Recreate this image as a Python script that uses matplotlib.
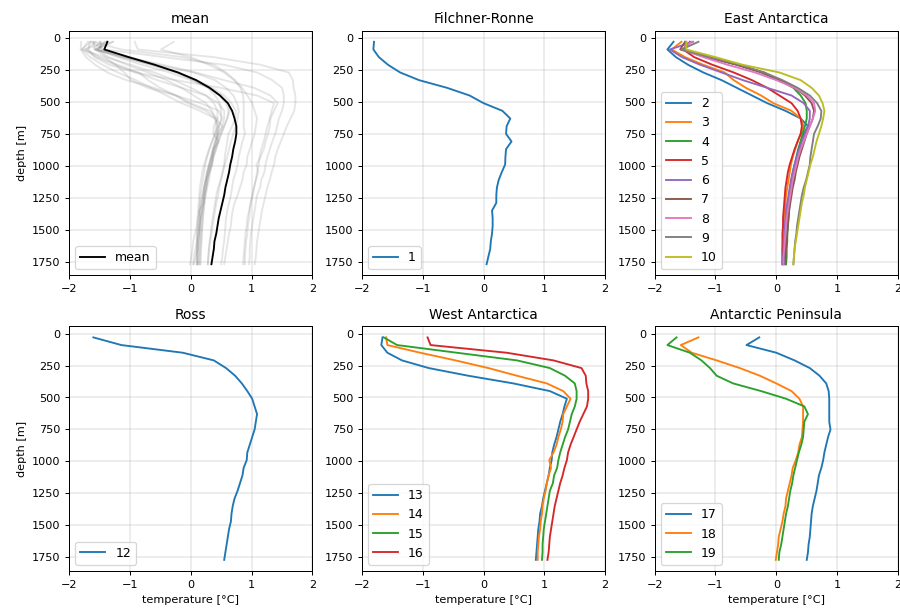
import numpy as np
import matplotlib
matplotlib.use("Agg")
import matplotlib.pyplot as plt

depth = [30, 90, 150, 210, 270, 330, 390, 450, 510, 570, 630, 690, 750, 810, 870,
         930, 990, 1050, 1110, 1170, 1230, 1290, 1350, 1410, 1470, 1530, 1590, 1650, 1710, 1770]

t1 = [-1.80, -1.81, -1.72, -1.57, -1.37, -1.06, -0.60, -0.23, 0.00, 0.31, 0.44, 0.38, 0.37, 0.46, 0.37,
      0.36, 0.355, 0.30, 0.25, 0.22, 0.21, 0.21, 0.14, 0.15, 0.15, 0.14, 0.12, 0.11, 0.08, 0.05]

t2 = [-1.69, -1.79, -1.65, -1.45, -1.20, -0.90, -0.65, -0.40, -0.15, 0.15, 0.40, 0.52, 0.45, 0.40, 0.36,
      0.33, 0.30, 0.27, 0.25, 0.23, 0.21, 0.19, 0.18, 0.17, 0.16, 0.15, 0.15, 0.14, 0.14, 0.13]
t3 = [-1.56, -1.72, -1.50, -1.20, -0.85, -0.70, -0.50, -0.25, -0.05, 0.25, 0.40, 0.45, 0.40, 0.35, 0.31,
      0.27, 0.24, 0.22, 0.20, 0.18, 0.16, 0.15, 0.14, 0.13, 0.12, 0.11, 0.11, 0.10, 0.10, 0.10]
t4 = [-1.48, -1.50, -1.10, -0.65, -0.20, 0.05, 0.28, 0.40, 0.48, 0.50, 0.50, 0.47, 0.43, 0.40, 0.37,
      0.34, 0.31, 0.29, 0.27, 0.25, 0.23, 0.22, 0.21, 0.20, 0.19, 0.18, 0.18, 0.17, 0.17, 0.16]
t5 = [-1.42, -1.53, -1.35, -1.05, -0.70, -0.40, -0.15, 0.05, 0.25, 0.35, 0.40, 0.42, 0.40, 0.35, 0.30,
      0.26, 0.22, 0.19, 0.17, 0.15, 0.14, 0.13, 0.12, 0.11, 0.11, 0.10, 0.10, 0.10, 0.10, 0.10]
t6 = [-1.37, -1.75, -1.55, -1.25, -0.90, -0.55, -0.15, 0.25, 0.45, 0.55, 0.55, 0.52, 0.47, 0.42, 0.38,
      0.34, 0.30, 0.27, 0.24, 0.22, 0.20, 0.18, 0.16, 0.15, 0.14, 0.13, 0.12, 0.12, 0.11, 0.11]
t7 = [-1.50, -1.58, -1.15, -0.65, -0.25, 0.05, 0.30, 0.47, 0.58, 0.62, 0.60, 0.55, 0.50, 0.46, 0.42,
      0.38, 0.35, 0.32, 0.30, 0.27, 0.25, 0.23, 0.21, 0.20, 0.19, 0.18, 0.17, 0.16, 0.15, 0.15]
t8 = [-1.39, -1.54, -1.20, -0.80, -0.35, 0.00, 0.30, 0.50, 0.62, 0.64, 0.60, 0.55, 0.50, 0.45, 0.40,
      0.36, 0.33, 0.30, 0.27, 0.25, 0.23, 0.21, 0.19, 0.17, 0.16, 0.15, 0.14, 0.13, 0.12, 0.12]
t9 = [-1.28, -1.56, -1.10, -0.60, -0.20, 0.10, 0.35, 0.55, 0.67, 0.74, 0.73, 0.68, 0.62, 0.60, 0.58,
      0.56, 0.55, 0.52, 0.49, 0.45, 0.42, 0.40, 0.38, 0.36, 0.34, 0.33, 0.31, 0.30, 0.29, 0.28]
t10 = [-1.48, -1.48, -1.00, -0.55, 0.05, 0.40, 0.58, 0.70, 0.76, 0.79, 0.77, 0.74, 0.70, 0.66, 0.63,
       0.60, 0.56, 0.53, 0.50, 0.47, 0.45, 0.42, 0.40, 0.38, 0.36, 0.34, 0.32, 0.30, 0.29, 0.28]

t12 = [-1.60, -1.14, -0.13, 0.38, 0.58, 0.73, 0.84, 0.93, 1.01, 1.05, 1.09, 1.07, 1.05, 1.01, 0.97,
       0.93, 0.92, 0.87, 0.85, 0.81, 0.77, 0.72, 0.69, 0.67, 0.66, 0.63, 0.61, 0.59, 0.57, 0.55]

t13 = [-1.66, -1.68, -1.58, -1.34, -0.90, -0.25, 0.49, 1.09, 1.37, 1.33, 1.30, 1.26, 1.23, 1.20, 1.16,
       1.13, 1.12, 1.09, 1.07, 1.04, 1.01, 0.98, 0.96, 0.93, 0.92, 0.90, 0.89, 0.88, 0.87, 0.86]
t14 = [-1.60, -1.58, -1.04, -0.46, 0.08, 0.55, 1.04, 1.31, 1.43, 1.37, 1.31, 1.30, 1.27, 1.23, 1.20,
       1.15, 1.08, 1.11, 1.07, 1.04, 1.02, 0.99, 0.97, 0.96, 0.94, 0.93, 0.91, 0.90, 0.89, 0.89]
t15 = [-1.64, -1.42, -0.44, 0.55, 1.09, 1.34, 1.50, 1.53, 1.53, 1.50, 1.45, 1.42, 1.39, 1.34, 1.30,
       1.26, 1.23, 1.21, 1.16, 1.14, 1.09, 1.07, 1.05, 1.03, 1.01, 0.99, 0.98, 0.97, 0.97, 0.96]
t16 = [-0.92, -0.87, 0.38, 1.15, 1.61, 1.68, 1.69, 1.72, 1.72, 1.70, 1.64, 1.58, 1.53, 1.48, 1.43,
       1.39, 1.37, 1.33, 1.30, 1.26, 1.23, 1.20, 1.17, 1.15, 1.13, 1.11, 1.09, 1.08, 1.07, 1.05]

t17 = [-0.28, -0.49, 0.00, 0.30, 0.55, 0.71, 0.82, 0.86, 0.87, 0.87, 0.87, 0.87, 0.89, 0.85, 0.82,
       0.79, 0.77, 0.74, 0.70, 0.68, 0.66, 0.63, 0.60, 0.58, 0.57, 0.56, 0.55, 0.53, 0.52, 0.50]
t18 = [-1.28, -1.57, -1.39, -0.98, -0.60, -0.27, 0.00, 0.25, 0.38, 0.44, 0.44, 0.44, 0.43, 0.42, 0.38,
       0.36, 0.32, 0.27, 0.25, 0.22, 0.19, 0.16, 0.15, 0.12, 0.10, 0.07, 0.04, 0.03, 0.01, -0.01]
t19 = [-1.64, -1.79, -1.42, -1.23, -1.09, -0.98, -0.71, -0.25, 0.16, 0.46, 0.52, 0.46, 0.45, 0.44, 0.41,
       0.37, 0.34, 0.31, 0.28, 0.26, 0.23, 0.21, 0.19, 0.16, 0.14, 0.12, 0.10, 0.08, 0.05, 0.04]

mean_t = [-1.37, -1.42, -1.02, -0.59, -0.21, 0.09, 0.31, 0.48, 0.61, 0.68, 0.72, 0.75, 0.75, 0.73, 0.70,
          0.68, 0.65, 0.63, 0.60, 0.57, 0.55, 0.52, 0.49, 0.46, 0.44, 0.42, 0.39, 0.38, 0.36, 0.34]

series = {1: t1, 2: t2, 3: t3, 4: t4, 5: t5, 6: t6, 7: t7, 8: t8, 9: t9, 10: t10,
          12: t12, 13: t13, 14: t14, 15: t15, 16: t16, 17: t17, 18: t18, 19: t19}

regions = ["Filchner-Ronne", "East Antarctica", "Ross", "West Antarctica", "Antarctic Peninsula"]
region_ids = [[1], [2, 3, 4, 5, 6, 7, 8, 9, 10], [12], [13, 14, 15, 16], [17, 18, 19]]

yticks = [0, 250, 500, 750, 1000, 1250, 1500, 1750]
xticks = [-2, -1, 0, 1, 2]

fig, axes = plt.subplots(2, 3, figsize=(10, 6.756), dpi=90)
fig.subplots_adjust(left=0.0767, right=0.9978, top=0.9495, bottom=0.0609,
                    wspace=0.203, hspace=0.208)
axs = axes.ravel()

ax = axs[0]
for k, v in series.items():
    ax.plot(v, depth, color="gray", alpha=0.2, lw=1.5)
ax.plot(mean_t, depth, color="k", lw=1.5, label="mean")
ax.set_title("mean", fontsize=11)

for ax, name, ids in zip(axs[1:], regions, region_ids):
    for k in ids:
        ax.plot(series[k], depth, lw=1.5, label=str(k))
    ax.set_title(name, fontsize=11)

for i, ax in enumerate(axs):
    ax.set_xlim(-2, 2)
    ax.set_xticks(xticks)
    ax.set_yticks(yticks)
    ax.invert_yaxis()
    ax.grid(True, color="#b0b0b0", alpha=0.3, lw=1.2)
    ax.tick_params(labelsize=9)
    ax.legend(loc="lower left", fontsize=10)
    if i % 3 == 0:
        ax.set_ylabel("depth [m]", fontsize=9)
    if i >= 3:
        ax.set_xlabel("temperature [°C]", fontsize=9)

fig.savefig("out.png", dpi=90)
